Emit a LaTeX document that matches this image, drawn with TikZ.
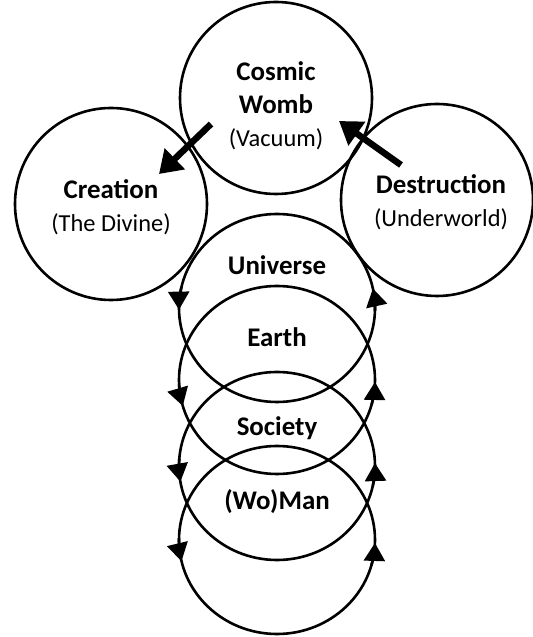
\documentclass[tikz,border=0pt]{standalone}
\usepackage{fontspec}
\setmainfont{Carlito}
\usetikzlibrary{arrows.meta}

\begin{document}
\begin{tikzpicture}[
    x=1bp, y=1bp,
    ring/.style={draw, circle, line width=2.6bp, minimum size=192bp, inner sep=0pt},
    loopring/.style={line width=2.6bp},
    flowtip/.style={line width=2.6bp, -{Triangle[length=18bp,width=21bp]}},
    push/.style={-{Triangle[length=22bp,width=28bp]}, line width=6.5bp},
    label/.style={align=center, font=\fontsize{27}{33}\selectfont},
]
\useasboundingbox (0,0) rectangle (533,637);

% === TRES CÍRCULOS SUPERIORES ===
\node[ring] (womb) at (276,539) {};
\node[ring] (creation) at (111,433) {};
\node[ring] (destruction) at (437,437) {};

\node[label] (womb-lbl) at (276,531) {\bfseries Cosmic\\\bfseries Womb\\{\fontsize{24.5}{33}\selectfont (Vacuum)}};
\node[label] (creation-lbl) at (111,430) {\bfseries Creation\\{\fontsize{24.5}{33}\selectfont (The Divine)}};
\node[label] (destruction-lbl) at (441,435) {\bfseries Destruction\\{\fontsize{24.5}{33}\selectfont (Underworld)}};

% === FLECHAS ===
\coordinate (cr-tail) at (211,513);
\coordinate (cr-tip) at (159,463);
\coordinate (de-tail) at (401,472);
\coordinate (de-tip) at (339,516);
\draw[push] (cr-tail) -- (cr-tip);
\draw[push] (de-tail) -- (de-tip);

% === CICLOS ===
\foreach \nm/\cy/\ty/\lbl/\al/\ar in {universe/329/372/Universe/181/12,
                                    earth/257/300/Earth/196/-1.2,
                                    society/171/209/Society/189.6/1.8,
                                    woman/97/135/{(Wo)Man}/193/-1.8} {
    \coordinate (\nm) at (277,\cy);
    \draw[loopring] (\nm) ellipse[x radius=98, y radius=94];
    % puntas de flecha sobre el ciclo
    \draw[flowtip] (\nm) ++({98*cos(\al-14)},{94*sin(\al-14)})
        arc[start angle=\al-14, end angle=\al, x radius=98, y radius=94];
    \draw[flowtip] (\nm) ++({98*cos(\ar-14)},{94*sin(\ar-14)})
        arc[start angle=\ar-14, end angle=\ar, x radius=98, y radius=94];
    \node[label, font=\fontsize{27}{33}\selectfont\bfseries] (\nm-lbl) at (277,\ty) {\lbl};
}

\end{tikzpicture}
\end{document}
